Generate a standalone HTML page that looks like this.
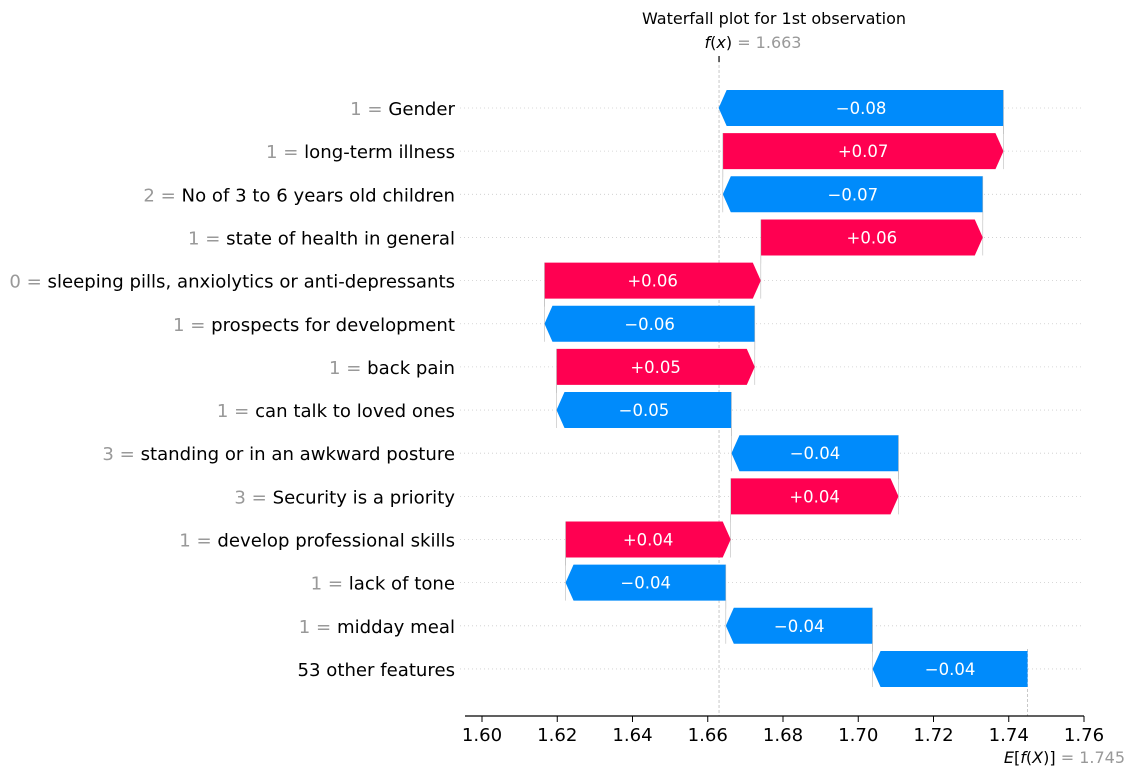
<!DOCTYPE html>
<html><head><meta charset="utf-8"><style>
body{margin:0;background:#fff;}
svg text{font-family:"DejaVu Sans","Liberation Sans",sans-serif;}
</style></head><body>
<svg id="chart" width="1135" height="776" xmlns="http://www.w3.org/2000/svg">
<text x="774" y="24" font-size="16" text-anchor="middle" fill="#000">Waterfall plot for 1st observation</text>
<text x="753" y="48" font-size="16" text-anchor="middle"><tspan font-style="italic">f</tspan>(<tspan font-style="italic">x</tspan>) <tspan fill="#999">= 1.663</tspan></text>
<text x="1125" y="763" font-size="16" text-anchor="end"><tspan font-style="italic">E</tspan>[<tspan font-style="italic">f</tspan>(<tspan font-style="italic">X</tspan>)] <tspan fill="#999">= 1.745</tspan></text>
<g id="g"></g>
</svg>
<script>
const featureValues=["1","1","2","1","0","1","1","1","3","3","1","1","1",""];
const featureNames=["Gender","long-term illness","No of 3 to 6 years old children","state of health in general","sleeping pills, anxiolytics or anti-depressants","prospects for development","back pain","can talk to loved ones","standing or in an awkward posture","Security is a priority","develop professional skills","lack of tone","midday meal","53 other features"];
const shapValues=[-0.0757,0.0746,-0.0691,0.059,0.0575,-0.0559,0.0527,-0.0465,-0.0444,0.0446,0.0439,-0.0426,-0.039,-0.0412];
const valueLabels=["\u22120.08","+0.07","\u22120.07","+0.06","+0.06","\u22120.06","+0.05","\u22120.05","\u22120.04","+0.04","+0.04","\u22120.04","\u22120.04","\u22120.04"];
const baseValue=1.745;
const fxValue=1.663;
const xTicks=[1.60,1.62,1.64,1.66,1.68,1.70,1.72,1.74,1.76];

const NS="http://www.w3.org/2000/svg";
const g=document.getElementById('g');
const X=v=>482+(v-1.6)*3762.5;
const Y=i=>108+i*43.15;
function mk(t,a){const e=document.createElementNS(NS,t);for(const k in a)e.setAttribute(k,a[k]);g.appendChild(e);return e;}
const n=featureNames.length;
for(let i=0;i<n;i++){
 const l=mk('line',{x1:460,x2:1084,y1:Y(i),y2:Y(i),stroke:'#ccc','stroke-width':0.8,'stroke-dasharray':'1,3'});
 
 
}
const fl=mk('line',{x1:X(fxValue),x2:X(fxValue),y1:60,y2:716,stroke:'#bbb','stroke-width':0.8,'stroke-dasharray':'3,2'});


mk('line',{x1:X(fxValue),x2:X(fxValue),y1:56,y2:62,stroke:'#000','stroke-width':1.2});
const el=mk('line',{x1:X(baseValue),x2:X(baseValue),y1:Y(n-1)-20,y2:716,stroke:'#bbb','stroke-width':0.8,'stroke-dasharray':'3,2'});


let cur=baseValue;
const starts=[];
for(let i=n-1;i>=0;i--){starts[i]=cur;cur+=shapValues[i];}
for(let i=0;i<n;i++){
 const s=starts[i],e=s+shapValues[i];
 const x0=X(Math.min(s,e)),x1=X(Math.max(s,e));
 const y=Y(i),h=36,hw=h/2,head=8;
 const pos=shapValues[i]>0;
 let pts;
 if(pos) pts=[[x0,y-hw],[x1-head,y-hw],[x1,y],[x1-head,y+hw],[x0,y+hw]];
 else pts=[[x0+head,y-hw],[x1,y-hw],[x1,y+hw],[x0+head,y+hw],[x0,y]];
 const p=mk('polygon',{points:pts.map(q=>q.join(',')).join(' '),fill:pos?'#ff0051':'#008bfb'});
 
 
 if(i>0){mk('line',{x1:X(e),x2:X(e),y1:y-hw-8,y2:y+hw,stroke:'#bbb','stroke-width':0.6});}
 if(i<n-1){mk('line',{x1:X(s),x2:X(s),y1:y-hw,y2:y+hw+8,stroke:'#bbb','stroke-width':0.6});}
 const t=mk('text',{x:(x0+x1)/2,y:y+6,'font-size':16.5,fill:'#fff','text-anchor':'middle'});
 t.textContent=valueLabels[i];
 
 
 const lb=mk('text',{x:455,y:y+7,'font-size':18.1,'text-anchor':'end',fill:'#000'});
 
 
 if(featureValues[i]!==''){const ts=document.createElementNS(NS,'tspan');ts.setAttribute('fill','#999');ts.textContent=featureValues[i]+' = ';lb.appendChild(ts);}
 const ts2=document.createElementNS(NS,'tspan');ts2.textContent=featureNames[i];lb.appendChild(ts2);
}
const ax=mk('line',{x1:465,x2:1084,y1:716,y2:716,stroke:'#000','stroke-width':1.2});


xTicks.forEach(v=>{
 mk('line',{x1:X(v),x2:X(v),y1:716,y2:722,stroke:'#000','stroke-width':1});
 const t=mk('text',{x:X(v),y:741,'font-size':18.1,'text-anchor':'middle',fill:'#000'});
 t.textContent=v.toFixed(2);
 
 
});
</script>
</body></html>
